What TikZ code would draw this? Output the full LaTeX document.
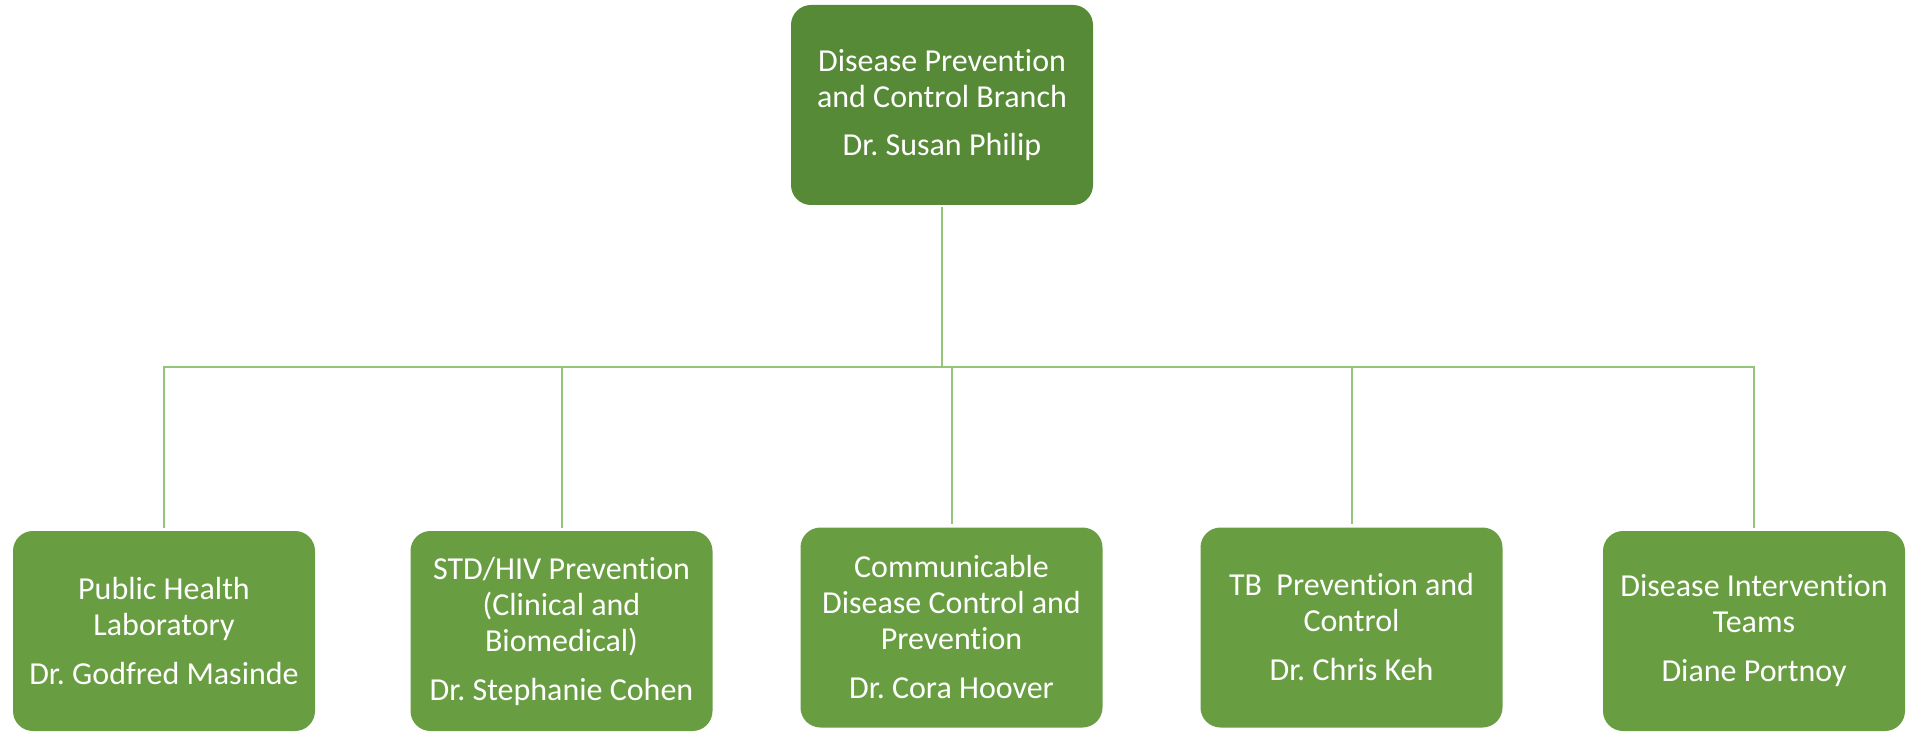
\documentclass[tikz,border=0pt]{standalone}
\usepackage{fontspec}
\setmainfont{Carlito}[Ligatures={NoCommon}]
\frenchspacing
\definecolor{topfill}{HTML}{568A36}
\definecolor{subfill}{HTML}{689E41}
\definecolor{linkcol}{HTML}{94C47B}
\begin{document}
\begin{tikzpicture}[x=1pt,y=-1pt,
  orgbox/.style={rectangle, rounded corners=20pt, minimum width=302pt, minimum height=200pt,
    inner sep=0pt, align=center, text=white, font=\fontsize{32}{36}\selectfont},
  topbox/.style={orgbox, fill=topfill},
  subbox/.style={orgbox, fill=subfill},
  conn/.style={draw=linkcol, line width=2pt}]
\useasboundingbox[fill=white] (0,0) rectangle (1908,735);

\node[topbox] (top) at (942,105) {Disease Prevention\\and Control Branch\\[12pt]Dr. Susan Philip};

\node[subbox] (c1) at (164,631) {Public Health\\Laboratory\\[13pt]Dr. Godfred Masinde};
\node[subbox] (c2) at (561.5,631) {STD/HIV Prevention\\(Clinical and\\Biomedical)\\[13pt]Dr. Stephanie Cohen};
\node[subbox] (c3) at (951.5,627.5) {Communicable\\Disease Control and\\Prevention\\[13pt]Dr. Cora Hoover};
\node[subbox] (c4) at (1351.5,627.5) {TB\ \ Prevention and\\Control\\[13pt]Dr. Chris Keh};
\node[subbox] (c5) at (1754,631) {Disease Intervention\\Teams\\[13pt]Diane Portnoy};

\coordinate (bus) at (942,367);
\draw[conn, shorten <=2pt] (top.south) -- (bus);
\foreach \c in {c1,c2,c3,c4,c5}
  \draw[conn, shorten >=3pt] (bus) -| (\c.north);
\end{tikzpicture}
\end{document}
